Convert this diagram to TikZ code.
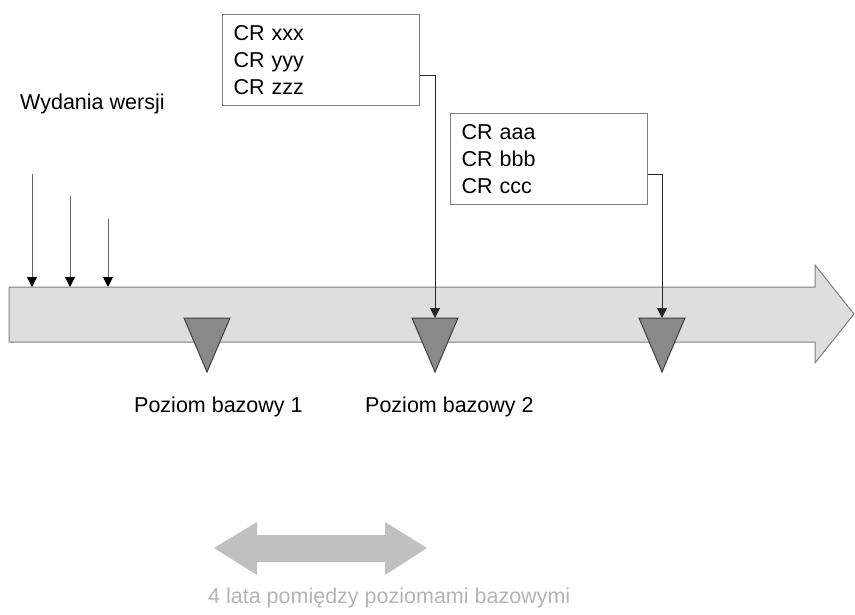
\documentclass[tikz,border=0pt]{standalone}
\usepackage{fontspec}
\setmainfont{Liberation Sans}
\usepackage{tikz}
\usetikzlibrary{arrows.meta}

\definecolor{tlo}{HTML}{DEDEDE}
\definecolor{ramka}{HTML}{808080}
\definecolor{znacznik}{HTML}{898989}
\definecolor{jasny}{HTML}{C0C0C0}
\definecolor{napis}{HTML}{B4B4B4}

\begin{document}
\begin{tikzpicture}[x=1pt,y=-1pt,
	txt/.style={font=\fontsize{21.5}{27.2}\selectfont, inner sep=0pt},
	crbox/.style={txt, draw=ramka, line width=1pt, anchor=north west,
		minimum width=197pt, minimum height=91pt, text width=175pt,
		inner xsep=11pt, align=left},
	os/.style={draw=ramka, line width=1pt, fill=tlo},
	znak/.style={draw=black!75, line width=1pt, fill=znacznik},
	wyd/.style={draw=black!60, line width=1pt, -{Triangle[length=10pt,width=10pt,color=black]}},
	pol/.style={draw=black!85, line width=1pt, -{Triangle[length=10pt,width=10pt]}}]
	\useasboundingbox (0,0) rectangle (855,615);
	% os czasu
	\draw[os] (9,287) -- (815,287) -- (815,265) -- (854,314) -- (815,363) -- (815,342) -- (9,342) -- cycle;
	% poziomy bazowe
	\draw[znak] (184,318) -- (230,318) -- (207,372) -- cycle;
	\draw[znak] (412,318) -- (458,318) -- (435,372) -- cycle;
	\draw[znak] (639,318) -- (685,318) -- (662,372) -- cycle;
	\coordinate (p1) at (207,318);
	\coordinate (p2) at (435,318);
	\coordinate (p3) at (662,318);
	% wydania
	\node[txt, anchor=base west] at (20,110) (wyd) {Wydania wersji};
	\coordinate (w1) at (32,174);
	\coordinate (w2) at (70,196);
	\coordinate (w3) at (108,219);
	\coordinate (o1) at (32,287);
	\coordinate (o2) at (70,287);
	\coordinate (o3) at (108,287);
	\draw[wyd] (w1) -- (o1);
	\draw[wyd] (w2) -- (o2);
	\draw[wyd] (w3) -- (o3);
	% zgloszenia zmian
	\node[crbox] at (222,14) (cr1) {CR xxx\\CR yyy\\CR zzz};
	\node[crbox] at (450,113) (cr2) {CR aaa\\CR bbb\\CR ccc};
	\draw[pol] ([yshift=-15.5pt]cr1.east) -| (p2);
	\draw[pol] ([yshift=-15.5pt]cr2.east) -| (p3);
	\node[txt, anchor=base west] at (134,412) (pb1) {Poziom bazowy 1};
	\node[txt, anchor=base west] at (365,412) (pb2) {Poziom bazowy 2};
	% odstep
	\fill[jasny] (214,548) -- (257,522) -- (257,535) -- (385,535) -- (385,522) -- (427,548) -- (385,575) -- (385,562) -- (257,562) -- (257,575) -- cycle;
	\node[txt, text=napis, anchor=base west] at (208,603) (lata) {4 lata pomiędzy poziomami bazowymi};
\end{tikzpicture}
\end{document}
